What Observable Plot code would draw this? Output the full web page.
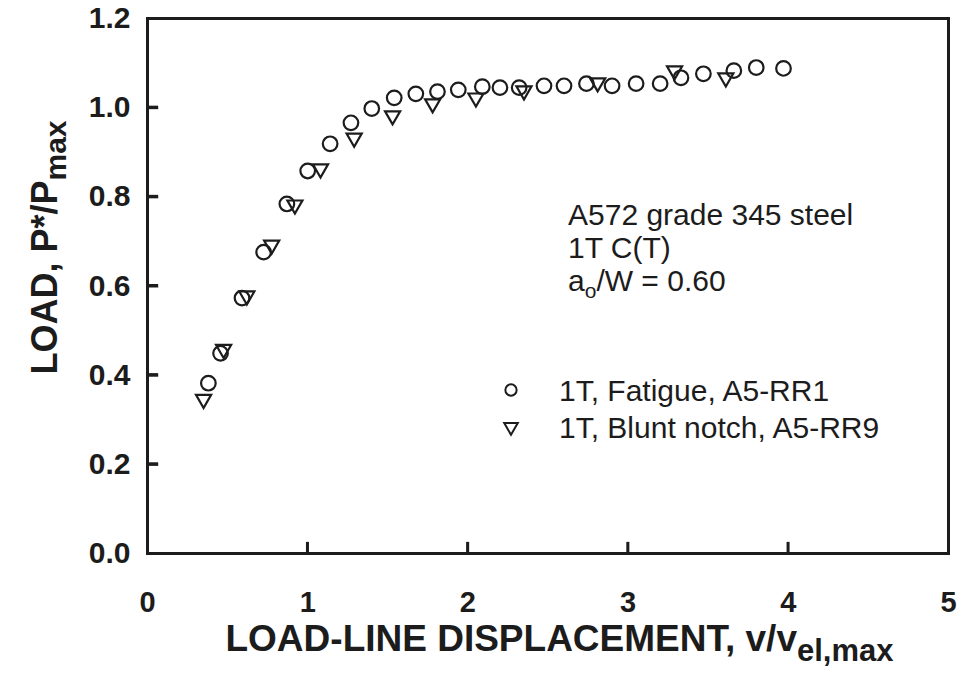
<!DOCTYPE html>
<html>
<head>
<meta charset="utf-8">
<script src="https://cdn.jsdelivr.net/npm/d3@7"></script>
<script src="https://cdn.jsdelivr.net/npm/@observablehq/plot@0.6"></script>
<style>
  html, body { margin: 0; padding: 0; background: #fff; }
  #chart { width: 964px; height: 673px; }
</style>
</head>
<body>
<div id="chart"></div>
<script>
// ---- data ----
const fatigueX = [0.38, 0.456, 0.59, 0.725, 0.87, 1.0, 1.14, 1.27, 1.40, 1.54, 1.675, 1.81, 1.94, 2.09, 2.20, 2.32, 2.475, 2.60, 2.74, 2.90, 3.05, 3.20, 3.33, 3.47, 3.66, 3.80, 3.97];
const fatigueY = [0.382, 0.449, 0.573, 0.676, 0.784, 0.858, 0.919, 0.966, 0.998, 1.022, 1.031, 1.036, 1.040, 1.047, 1.045, 1.045, 1.049, 1.049, 1.054, 1.049, 1.054, 1.054, 1.067, 1.076, 1.083, 1.090, 1.088];
const notchX = [0.35, 0.475, 0.62, 0.775, 0.92, 1.08, 1.29, 1.53, 1.78, 2.05, 2.35, 2.81, 3.29, 3.61];
const notchY = [0.346, 0.458, 0.578, 0.692, 0.782, 0.863, 0.932, 0.982, 1.009, 1.022, 1.038, 1.056, 1.083, 1.067];
const xTicks = [0, 1, 2, 3, 4, 5];
const yTicks = [0, 0.2, 0.4, 0.6, 0.8, 1.0, 1.2];
const seriesNames = ["1T, Fatigue, A5-RR1", "1T, Blunt notch, A5-RR9"];
const noteLines = ["A572 grade 345 steel", "1T C(T)"];
const noteRatio = { base: "a", sub: "o", rest: "/W = 0.60" };
const xTitle = { main: "LOAD-LINE DISPLACEMENT, v/v", sub: "el,max" };
const yTitle = { main: "LOAD, P*/P", sub: "max" };

(function () {
const fatigue = fatigueX.map((x, i) => ({ x, y: fatigueY[i] }));
const notch = notchX.map((x, i) => ({ x, y: notchY[i] }));
const innerY = yTicks.slice(1, -1);
const innerX = xTicks.slice(1, -1);

const FONT = "'Liberation Sans', Arial, Helvetica, sans-serif";
const INK = "#1c1c1c";

const plot = Plot.plot({
  width: 964,
  height: 673,
  marginLeft: 147,
  marginRight: 16,
  marginTop: 18,
  marginBottom: 120,
  style: "font-family: 'Liberation Sans', Arial, Helvetica, sans-serif; background: #fff; color: #1c1c1c;",
  x: { domain: [0, 5], label: null, axis: null },
  y: { domain: [0, 1.2], label: null, axis: null },
  marks: [
    Plot.ruleY(innerY, { y: d => d, x1: 0, x2: 0.07, stroke: INK, strokeWidth: 3 }),
    Plot.ruleX(innerX, { x: d => d, y1: 0, y2: 0.025, stroke: INK, strokeWidth: 2.5 }),
    Plot.frame({ stroke: INK, strokeWidth: 3 }),
    Plot.axisX(xTicks, { tickSize: 0, tickPadding: 38, fontSize: 29, fontWeight: "bold", label: null, tickFormat: d => String(d) }),
    Plot.axisY(yTicks, { tickSize: 0, tickPadding: 17, fontSize: 30, fontWeight: "bold", label: null, tickFormat: d3.format(".1f") }),
    Plot.dot(fatigue, { x: "x", y: "y", r: 7.3, stroke: INK, strokeWidth: 2.2, fill: "none" }),
    Plot.dot(notch, { x: "x", y: "y", symbol: "triangle", rotate: 180, r: 5.6, stroke: INK, strokeWidth: 2.2, fill: "none" })
  ]
});

document.getElementById("chart").appendChild(plot);

// ---- text with subscripts, legend ----
const svg = d3.select(plot);
const sx = plot.scale("x"), sy = plot.scale("y");
const pLeft = sx.apply(0), pRight = sx.apply(5);
const pTop = sy.apply(1.2), pBottom = sy.apply(0);

// inward tick marks positioned by Plot's scales
const tk = svg.append("g").attr("stroke", INK).attr("fill", "none");
innerY.forEach(v => {
  const yy = sy.apply(v);
  tk.append("line").attr("x1", pLeft).attr("x2", pLeft + 11).attr("y1", yy).attr("y2", yy).attr("stroke-width", 3);
});
innerX.forEach(v => {
  const xx = sx.apply(v);
  tk.append("line").attr("x1", xx).attr("x2", xx).attr("y1", pBottom).attr("y2", pBottom - 11).attr("stroke-width", 2.5);
});

// x title
const xt = svg.append("text")
  .attr("x", (pLeft + pRight) / 2 + 12)
  .attr("y", pBottom + 98)
  .attr("text-anchor", "middle")
  .attr("font-family", FONT).attr("font-weight", "bold").attr("font-size", 37).attr("fill", INK);
xt.append("tspan").text(xTitle.main);
xt.append("tspan").attr("dy", 10).attr("font-size", 31).text(xTitle.sub);

// y title
const yt = svg.append("text")
  .attr("transform", `translate(${pLeft - 90},${(pTop + pBottom) / 2 - 38}) rotate(-90)`)
  .attr("text-anchor", "middle")
  .attr("font-family", FONT).attr("font-weight", "bold").attr("font-size", 36).attr("fill", INK);
yt.append("tspan").text(yTitle.main);
yt.append("tspan").attr("dy", 9).attr("font-size", 30).text(yTitle.sub);

// annotation block
const noteX = pLeft + 421, noteY = pTop + 207, lineH = 33;
const note = svg.append("g").attr("font-family", FONT).attr("font-size", 30).attr("fill", INK).attr("text-anchor", "start");
noteLines.forEach((s, i) => {
  note.append("text").attr("x", noteX).attr("y", noteY + i * lineH).text(s);
});
const r3 = note.append("text").attr("x", noteX).attr("y", noteY + 2 * lineH);
r3.append("tspan").text(noteRatio.base);
r3.append("tspan").attr("dy", 7).attr("font-size", 21).text(noteRatio.sub);
r3.append("tspan").attr("dy", -7).text(noteRatio.rest);

// legend
const legX = pLeft + 364, legTextX = pLeft + 412, legY0 = pTop + 372, legDY = 37;
const leg = svg.append("g").attr("font-family", FONT).attr("font-size", 30).attr("fill", INK).attr("text-anchor", "start");
const symbols = [d3.symbolCircle, d3.symbolTriangle];
const sizes = [100, 80];
seriesNames.forEach((name, i) => {
  const cy = legY0 + i * legDY;
  leg.append("path")
    .attr("d", d3.symbol(symbols[i], sizes[i])())
    .attr("transform", `translate(${legX},${cy}) rotate(${i === 1 ? 180 : 0})`)
    .attr("fill", "none").attr("stroke", INK).attr("stroke-width", 2);
  leg.append("text").attr("x", legTextX).attr("y", cy + 11).text(name);
});
})();
</script>
</body>
</html>
